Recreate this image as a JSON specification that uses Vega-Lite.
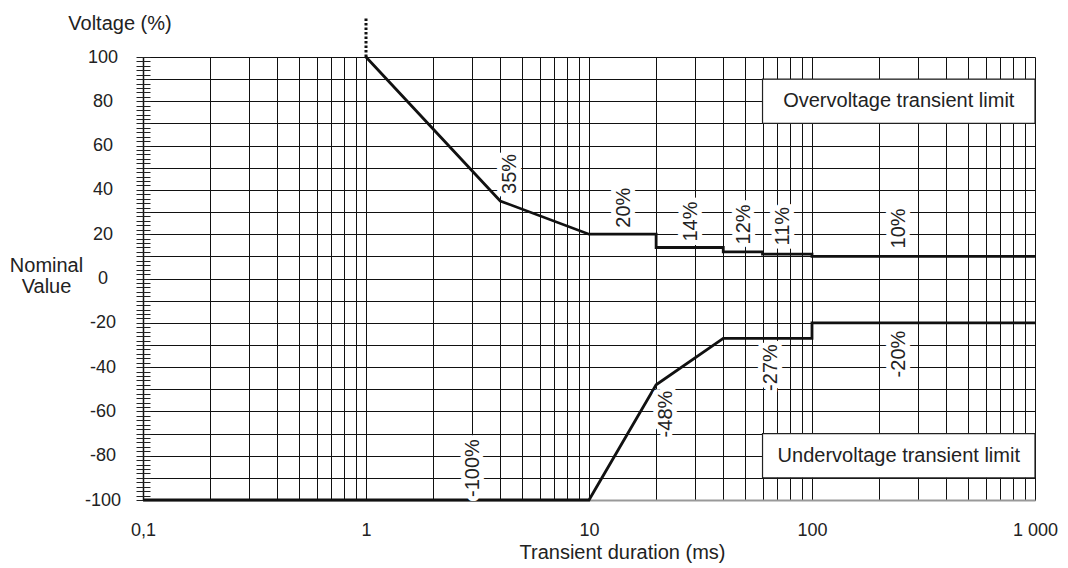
{
  "$schema": "https://vega.github.io/schema/vega-lite/v6.json",
  "width": 892,
  "height": 443,
  "autosize": {"type": "none"},
  "padding": {"left": 143, "top": 57, "right": 33, "bottom": 68},
  "background": "white",
  "config": {
    "font": "Liberation Sans",
    "view": {"stroke": null},
    "axis": {"labelColor": "#222", "titleColor": "#222", "titleFontWeight": "normal"}
  },
  "datasets": {
    "lines": [
      {"series": "over", "o": 1, "x": 1, "y": 100},
      {"series": "over", "o": 2, "x": 4, "y": 35},
      {"series": "over", "o": 3, "x": 10, "y": 20},
      {"series": "over", "o": 4, "x": 20, "y": 20},
      {"series": "over", "o": 5, "x": 20, "y": 14},
      {"series": "over", "o": 6, "x": 40, "y": 14},
      {"series": "over", "o": 7, "x": 40, "y": 12},
      {"series": "over", "o": 8, "x": 60, "y": 12},
      {"series": "over", "o": 9, "x": 60, "y": 11},
      {"series": "over", "o": 10, "x": 100, "y": 11},
      {"series": "over", "o": 11, "x": 100, "y": 10},
      {"series": "over", "o": 12, "x": 1000, "y": 10},
      {"series": "under", "o": 1, "x": 0.1, "y": -100},
      {"series": "under", "o": 2, "x": 10, "y": -100},
      {"series": "under", "o": 3, "x": 20, "y": -48},
      {"series": "under", "o": 4, "x": 40, "y": -27},
      {"series": "under", "o": 5, "x": 100, "y": -27},
      {"series": "under", "o": 6, "x": 100, "y": -20},
      {"series": "under", "o": 7, "x": 1000, "y": -20}
    ],
    "dotted": [{"x": 1, "y": 100, "y2": 118}],
    "boxes": [
      {"x": 60, "x2": 1000, "y": 70, "y2": 90, "tx": 245, "ty": 80, "label": "Overvoltage transient limit"},
      {"x": 60, "x2": 1000, "y": -90, "y2": -70, "tx": 245, "ty": -80, "label": "Undervoltage transient limit"}
    ],
    "labels": [
      {"x": 4.42, "y": 47.2, "label": "35%"},
      {"x": 14.28, "y": 32, "label": "20%"},
      {"x": 28.8, "y": 25.7, "label": "14%"},
      {"x": 49.8, "y": 24.4, "label": "12%"},
      {"x": 74, "y": 23.6, "label": "11%"},
      {"x": 246, "y": 22.6, "label": "10%"},
      {"x": 3.03, "y": -85.6, "label": "-100%"},
      {"x": 22.1, "y": -61.2, "label": "-48%"},
      {"x": 65.8, "y": -40.2, "label": "-27%"},
      {"x": 246.6, "y": -34.1, "label": "-20%"}
    ]
  },
  "resolve": {"scale": {"y": "shared", "x": "shared"}, "axis": {"y": "independent"}},
  "layer": [
    {
      "data": {"name": "boxes"},
      "mark": {"type": "rect", "fill": "white", "stroke": "#222", "strokeWidth": 1.2},
      "encoding": {
        "x": {
          "field": "x", "type": "quantitative",
          "scale": {"type": "log", "domain": [0.1, 1000], "nice": false},
          "axis": {
            "values": [0.1,0.2,0.3,0.4,0.5,0.6,0.7,0.8,0.9,1,2,3,4,5,6,7,8,9,10,20,30,40,50,60,70,80,90,100,200,300,400,500,600,700,800,900,1000],
            "labelExpr": "datum.value == 0.1 ? '0,1' : datum.value == 1 ? '1' : datum.value == 10 ? '10' : datum.value == 100 ? '100' : datum.value == 1000 ? '1 000' : ''",
            "ticks": false, "tickSize": 0,
            "labelPadding": 21, "labelFontSize": 18, "labelFlush": false, "labelOverlap": false,
            "grid": true, "gridColor": "#111", "gridWidth": 1,
            "domain": true, "domainColor": "#999", "domainWidth": 2,
            "title": "Transient duration (ms)", "titleFontSize": 20,
            "titleX": 479, "titleY": 52, "titleAlign": "center", "titleBaseline": "middle"
          }
        },
        "x2": {"field": "x2"},
        "y": {
          "field": "y", "type": "quantitative",
          "scale": {"domain": [-100, 100], "nice": false, "zero": false},
          "axis": {
            "orient": "left",
            "values": [-100,-90,-80,-70,-60,-50,-40,-30,-20,-10,0,10,20,30,40,50,60,70,80,90,100],
            "labelExpr": "datum.value % 20 == 0 ? '' + datum.value : ''",
            "ticks": false, "tickSize": 0,
            "labelAlign": "center", "labelBaseline": "middle", "labelPadding": 40.5, "labelFontSize": 18, "labelOverlap": false, "labelFlush": false,
            "grid": true, "gridColor": "#111", "gridWidth": 1,
            "domain": true, "domainColor": "#111", "domainWidth": 1.5,
            "title": "Voltage (%)", "titleFontSize": 20, "titleAngle": 0,
            "titleX": -23.5, "titleY": -34, "titleAlign": "center", "titleBaseline": "middle"
          }
        },
        "y2": {"field": "y2"}
      }
    },
    {
      "data": {"name": "lines"},
      "mark": {"type": "line", "color": "#111", "strokeWidth": 2.8, "strokeJoin": "miter"},
      "encoding": {
        "x": {"field": "x", "type": "quantitative"},
        "y": {
          "field": "y", "type": "quantitative",
          "axis": {
            "orient": "left",
            "values": [-100,-98,-96,-94,-92,-90,-88,-86,-84,-82,-80,-78,-76,-74,-72,-70,-68,-66,-64,-62,-60,-58,-56,-54,-52,-50,-48,-46,-44,-42,-40,-38,-36,-34,-32,-30,-28,-26,-24,-22,-20,-18,-16,-14,-12,-10,-8,-6,-4,-2,0,2,4,6,8,10,12,14,16,18,20,22,24,26,28,30,32,34,36,38,40,42,44,46,48,50,52,54,56,58,60,62,64,66,68,70,72,74,76,78,80,82,84,86,88,90,92,94,96,98,100],
            "offset": -7, "tickSize": 14, "tickColor": "#222", "tickWidth": 1,
            "labels": false, "domain": false, "grid": false,
            "title": ["Nominal", "Value"], "titleFontSize": 20, "titleAngle": 0, "titleLineHeight": 21,
            "titleX": -104, "titleY": 208, "titleAlign": "center", "titleBaseline": "middle"
          }
        },
        "detail": {"field": "series"},
        "order": {"field": "o"}
      }
    },
    {
      "data": {"name": "dotted"},
      "mark": {"type": "rule", "color": "#111", "strokeWidth": 3, "strokeDash": [2.5, 2]},
      "encoding": {
        "x": {"field": "x", "type": "quantitative"},
        "y": {"field": "y", "type": "quantitative", "axis": null},
        "y2": {"field": "y2"}
      }
    },
    {
      "data": {"name": "boxes"},
      "mark": {"type": "text", "fontSize": 20, "color": "#222", "align": "center", "baseline": "middle"},
      "encoding": {
        "x": {"field": "tx", "type": "quantitative"},
        "y": {"field": "ty", "type": "quantitative", "axis": null},
        "text": {"field": "label"}
      }
    },
    {
      "data": {"name": "labels"},
      "mark": {"type": "text", "fontSize": 20, "angle": 270, "align": "center", "baseline": "middle", "fill": "white", "stroke": "white", "strokeWidth": 10, "strokeJoin": "round"},
      "encoding": {
        "x": {"field": "x", "type": "quantitative"},
        "y": {"field": "y", "type": "quantitative", "axis": null},
        "text": {"field": "label"}
      }
    },
    {
      "data": {"name": "labels"},
      "mark": {"type": "text", "fontSize": 20, "angle": 270, "align": "center", "baseline": "middle", "color": "#222"},
      "encoding": {
        "x": {"field": "x", "type": "quantitative"},
        "y": {"field": "y", "type": "quantitative", "axis": null},
        "text": {"field": "label"}
      }
    }
  ]
}
